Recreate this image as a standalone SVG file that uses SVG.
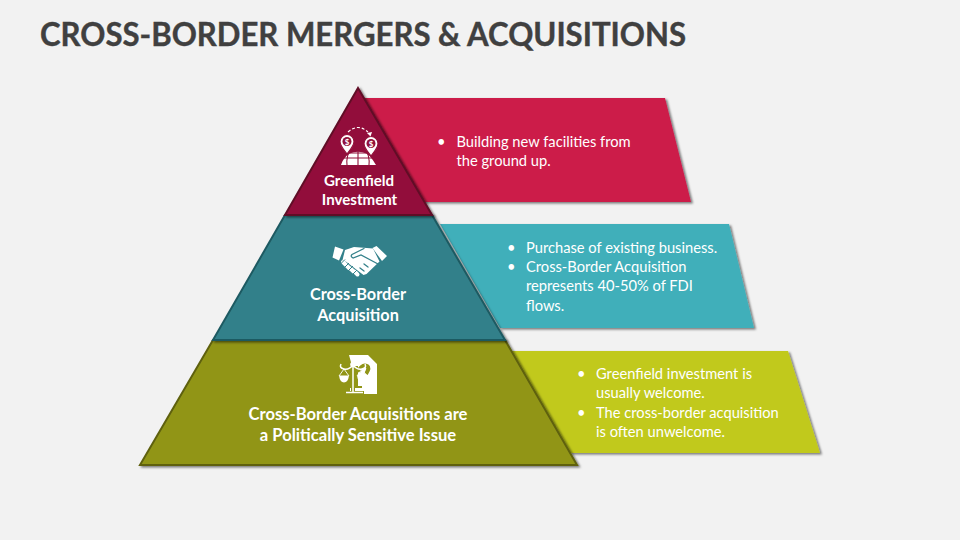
<svg xmlns="http://www.w3.org/2000/svg" width="960" height="540" viewBox="0 0 960 540">
<style>
text{font-family:Lato,"Open Sans",sans-serif;fill:#fff}
.t{font-size:14.7px}
.l{font-size:16.6px;font-weight:700;text-anchor:middle}
.m{font-size:16.3px}
.g{font-size:15.1px}
.w{fill:#fff}
</style>
<defs>
<filter id="s" x="-10%" y="-10%" width="120%" height="120%"><feDropShadow dx="2" dy="1.500" stdDeviation="1.200" flood-color="#000" flood-opacity=".5"/></filter>
<path id="pin" d="M0,-7.500a7,7 0 0 1 7,7c0,4 -3,7.500 -7,12.500c-4,-5 -7,-8.500 -7,-12.500a7,7 0 0 1 7,-7z" fill="#fff" stroke="#92113a" stroke-width="1.200"/>
</defs>
<rect width="960" height="540" fill="#f2f2f2"/>
<text x="40" y="45.500" font-size="32" font-weight="700" style="fill:#404040" stroke="#404040" stroke-width=".4" textLength="646" lengthAdjust="spacingAndGlyphs">CROSS-BORDER MERGERS &amp; ACQUISITIONS</text>
<g id="connectors"/>
<g id="ribbon-red"><polygon points="362,98 665,98 691,202 420,202" fill="#cc1a4a" filter="url(#s)"/>
<text class="t" x="437" y="147">•</text><text class="t" x="456.500" y="147">Building new facilities from</text><text class="t" x="456.500" y="166">the ground up.</text></g>
<g id="ribbon-teal"><polygon points="440,224 729,224 754,328 500,328" fill="#41afba" filter="url(#s)"/>
<text class="t" x="507" y="253">•</text><text class="t" x="526" y="253">Purchase of existing business.</text>
<text class="t" x="507" y="272">•</text><text class="t" x="526" y="272">Cross-Border Acquisition</text><text class="t" x="526" y="291">represents 40-50% of FDI</text><text class="t" x="526" y="310.500">flows.</text></g>
<g id="ribbon-yellow"><polygon points="510,351 788,351 820,453 570,453" fill="#c1c91f" filter="url(#s)"/>
<text class="t" x="577" y="379">•</text><text class="t" x="596" y="379">Greenfield investment is</text><text class="t" x="596" y="398">usually welcome.</text>
<text class="t" x="577" y="418">•</text><text class="t" x="596" y="418">The cross-border acquisition</text><text class="t" x="596" y="437">is often unwelcome.</text></g>
<g id="tier-olive"><polygon points="213,340 505,340 577,465 140,465" fill="#919518" stroke="#5e6110" stroke-width="2" filter="url(#s)"/>
<g id="icon-law">
<path class="w" d="M349,355h19l9,9v30h-27v-6h12v-2h-4v-20h-6z"/>
<g fill="none" stroke="#919518" stroke-width="4"><path d="M353,363v30M346,393h18"/><path d="M358,372q4,-8 9,-6q3,2 -1,8"/></g>
<g fill="none" stroke="#fff" stroke-width="1.500"><path d="M353,365v27M346,392.500h17"/><path d="M341,364q-2,4 3,5q5,1 9,-4q4,5 9,4q5,-1 3,-5"/></g>
<circle cx="353" cy="364.500" r="2.800" fill="#fff"/>
<g fill="none" stroke="#fff" stroke-width=".9"><path d="M344,369l-5,7M344,369l5,7M362,369l-5,7M362,369l5,7"/></g>
<path class="w" d="M339,375.500h10q-1,7 -5,7t-5,-7zM357,375.500h10q-1,7 -5,7t-5,-7z"/>
</g>
<text class="l" x="358" y="420">Cross-Border Acquisitions are</text><text class="l" x="358" y="441">a Politically Sensitive Issue</text></g>
<g id="tier-teal"><polygon points="285,215 432,215 505,340 213,340" fill="#33808a" stroke="#1f5a62" stroke-width="2" filter="url(#s)"/>
<g id="icon-handshake">
<path class="w" d="M335,246.500l8.500,3 -4.500,11 -6.500,-3zM376.500,246l10.500,10 -5,5 -9.500,-13z"/>
<path class="w" d="M345,250l9,-3 19,1.500 6.500,13 -13,12.500 -3,1 -17,-13 -4,-2z"/>
<g fill="none" stroke="#33808a" stroke-width="1.300" stroke-linecap="round">
<path d="M364,248.500l-12,6q-2,2 1,3.500l8,-3 17,9"/><path d="M368,267l-4,-3M364,271l-4,-3M360,274l-4,-3"/></g>
<g stroke="#fff" stroke-width="4" stroke-linecap="round" fill="none"><path d="M343,262l3,3M346.500,265.500l3,3M350.500,268.500l3,3M354.500,271.500l3,3"/></g>
<g stroke="#33808a" stroke-width="1" fill="none"><path d="M340,264.500l5,-5M344,268l5,-5M348,271l5,-5M352,275l5,-5"/></g>
</g>
<text class="l m" x="358" y="299.500">Cross-Border</text><text class="l m" x="358" y="320.500">Acquisition</text></g>
<g id="tier-red"><polygon points="358,88 432,215 285,215" fill="#92113a" stroke="#610a26" stroke-width="2" filter="url(#s)"/>
<g id="icon-globe">
<path class="w" d="M341,165c1,-3 2,-5 3,-6a16,14 0 0 1 28,0c1,1 2,3 4,6z"/>
<path d="M358,147v18M343,158h30M351,148q-5,8 -4,17M365,148q5,8 4,17M345,153h26" fill="none" stroke="#92113a" stroke-width="1.100"/>
<use href="#pin" x="347" y="142"/><use href="#pin" x="371" y="144"/>
<circle cx="347" cy="141.500" r="4.500" fill="#92113a"/><circle cx="371" cy="143.500" r="4.500" fill="#92113a"/>
<text x="347" y="144.500" font-size="8" font-weight="700" text-anchor="middle">$</text><text x="371" y="146.500" font-size="8" font-weight="700" text-anchor="middle">$</text>
<path d="M348,132q10,-9 20,0" fill="none" stroke="#fff" stroke-width="1.100" stroke-dasharray="3 2"/>
<path class="w" d="M367,133l5,-1 -1.500,4.500z"/>
</g>
<text class="l g" x="359" y="186">Greenfield</text><text class="l g" x="359.500" y="205">Investment</text></g>
</svg>
